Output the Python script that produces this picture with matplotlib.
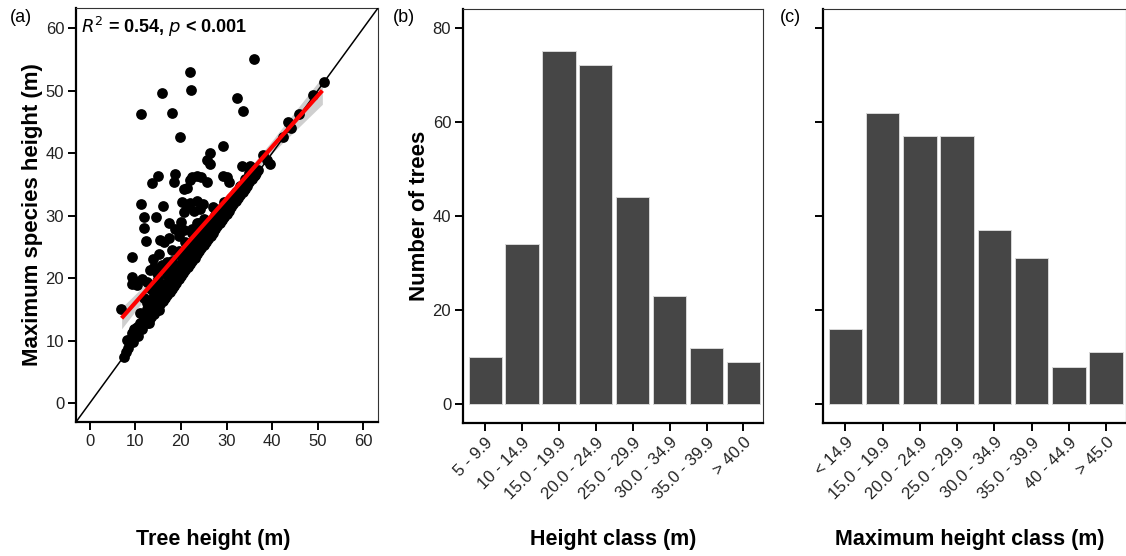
import matplotlib
matplotlib.use('Agg')
import matplotlib.pyplot as plt
import numpy as np

plt.rcParams['font.family'] = ['Liberation Sans', 'DejaVu Sans']

# (a) tree height vs maximum species height
tree_h = [
    21.9, 15.9, 22.3, 11.3, 18.0, 32.2, 33.7, 19.9, 29.2, 26.4, 25.7, 26.4, 33.3, 35.1, 36.0,
    51.3, 48.9, 45.8, 43.5, 44.2, 42.4, 38.0, 38.8, 39.5, 36.2, 30.0,
    14.9, 18.8, 13.7, 18.5, 21.3, 22.4, 23.5, 24.5, 25.7, 29.2, 30.6, 20.7, 22.0,
    11.3, 16.0, 20.2, 21.3, 22.0, 23.5, 24.9, 27.1, 20.6, 22.8, 24.2, 28.2,
    12.0, 14.5, 11.8, 17.3, 18.6, 20.6, 22.4, 19.5, 23.5, 25.0, 26.5, 20.0,
    12.4, 15.5, 16.2, 17.3, 18.0, 19.5, 21.3,
    9.3, 13.8, 15.3, 14.0, 15.9, 17.0,
    9.3, 11.5, 10.4, 13.3, 14.8, 12.6, 14.0, 9.3, 10.4,
    6.8, 9.7, 9.3, 10.4, 8.2, 7.9, 7.5, 8.6, 13.3, 14.0, 11.8, 12.9, 15.1,
    8.5, 9.5, 10.5, 11.5, 12.5, 13.0, 13.5, 14.0, 14.5, 15.0, 15.5, 16.0, 16.5, 17.0, 17.5,
    18.0, 18.5, 19.0, 19.5, 20.0, 20.5, 21.0, 21.5, 22.0, 22.5, 23.0, 23.5, 24.0, 24.5, 25.0,
    25.5, 26.0, 26.5, 27.0, 27.5, 28.0, 28.5, 29.0, 29.5, 30.0, 30.5, 31.0, 31.5, 32.0, 32.5,
    33.0, 33.5, 34.0, 34.5, 35.0, 35.5, 36.0, 36.5, 37.0,
    10.0, 11.0, 12.0, 13.0, 14.0, 15.0, 16.0, 17.0, 18.0, 19.0, 20.0, 21.0, 22.0, 23.0, 24.0,
    25.0, 26.0, 27.0, 28.0, 29.0, 30.0, 31.0, 32.0, 33.0, 34.0, 35.0,
    11.0, 12.5, 14.0, 15.5, 17.0, 18.5, 20.0, 21.5, 23.0, 24.5,
    12.5, 13.5, 14.5, 15.5, 16.5, 17.5, 18.5, 19.5, 20.5, 21.5, 22.5, 23.5, 24.5, 25.5, 26.5,
    27.5, 28.5, 29.5,
    12.0, 13.5, 15.0, 16.5, 18.0, 19.5, 21.0, 22.5, 24.0,
]
max_h = [
    53.0, 49.6, 50.1, 46.3, 46.4, 48.8, 46.8, 42.6, 41.1, 40.0, 38.9, 38.2, 37.9, 37.9, 55.0,
    51.4, 49.3, 46.2, 45.0, 44.0, 42.6, 39.7, 38.9, 38.3, 36.5, 36.2,
    36.4, 36.7, 35.2, 35.3, 34.4, 36.2, 36.4, 36.2, 35.3, 36.3, 35.4, 34.2, 35.7,
    31.9, 31.5, 32.2, 31.4, 32.0, 32.4, 31.9, 31.4, 30.6, 30.8, 31.0, 30.6,
    29.8, 29.8, 28.1, 28.8, 27.9, 27.7, 27.8, 26.8, 28.9, 29.5, 29.0, 29.0,
    25.9, 26.1, 25.8, 26.4, 24.5, 24.2, 24.8,
    23.4, 23.1, 23.8, 21.8, 22.1, 22.6,
    20.2, 19.9, 18.9, 21.3, 20.8, 19.4, 18.9, 19.1, 19.4,
    15.0, 11.9, 11.2, 12.2, 10.1, 8.2, 7.4, 10.1, 16.5, 15.4, 13.8, 12.8, 14.9,
    8.8, 9.8, 10.8, 11.8, 12.8, 13.3, 13.8, 14.3, 14.8, 15.3, 15.8, 16.3, 16.8, 17.3, 17.8,
    18.3, 18.8, 19.3, 19.8, 20.3, 20.8, 21.3, 21.8, 22.3, 22.8, 23.3, 23.8, 24.3, 24.8, 25.3,
    25.8, 26.3, 26.8, 27.3, 27.8, 28.3, 28.8, 29.3, 29.8, 30.3, 30.8, 31.3, 31.8, 32.3, 32.8,
    33.3, 33.8, 34.3, 34.8, 35.3, 35.8, 36.3, 36.8, 37.3,
    11.8, 12.8, 13.8, 14.8, 15.8, 16.8, 17.8, 18.8, 19.8, 20.8, 21.8, 22.8, 23.8, 24.8, 25.8,
    26.8, 27.8, 28.8, 29.8, 30.8, 31.8, 32.8, 33.8, 34.8, 35.8, 36.8,
    14.5, 16.0, 17.5, 19.0, 20.5, 22.0, 23.5, 25.0, 26.5, 28.0,
    15.1, 16.1, 17.1, 18.1, 19.1, 20.1, 21.1, 22.1, 23.1, 24.1, 25.1, 26.1, 27.1, 28.1, 29.1,
    30.1, 31.1, 32.1,
    16.8, 18.3, 19.8, 21.3, 22.8, 24.3, 25.8, 27.3, 28.8,
]

# fitted line and confidence band
fit_x = [7, 15, 22, 30, 40, 51]
fit_y = [13.6, 20.2, 26.1, 32.7, 41.0, 50.0]
ci_lo = [11.9, 19.4, 25.6, 32.2, 40.0, 47.8]
ci_hi = [15.3, 21.0, 26.6, 33.2, 42.0, 52.2]

# (b) height classes
height_cls = ['5 - 9.9', '10 - 14.9', '15.0 - 19.9', '20.0 - 24.9', '25.0 - 29.9',
              '30.0 - 34.9', '35.0 - 39.9', '> 40.0']
height_n = [10, 34, 75, 72, 44, 23, 12, 9]

# (c) maximum height classes
maxh_cls = ['< 14.9', '15.0 - 19.9', '20.0 - 24.9', '25.0 - 29.9', '30.0 - 34.9',
            '35.0 - 39.9', '40 - 44.9', '> 45.0']
maxh_n = [16, 62, 57, 57, 37, 31, 8, 11]

W, H = 1126, 556
fig = plt.figure(figsize=(W / 100, H / 100), dpi=100)
ax1 = fig.add_axes([76 / W, 1 - 422 / H, 302 / W, 414 / H])
ax2 = fig.add_axes([463 / W, 1 - 423 / H, 300 / W, 414 / H])
ax3 = fig.add_axes([823 / W, 1 - 423 / H, 303 / W, 414 / H])

def style(ax):
    for s in ['top', 'right']:
        ax.spines[s].set_linewidth(0.8)
        ax.spines[s].set_color('#333333')
    for s in ['left', 'bottom']:
        ax.spines[s].set_linewidth(1.6)
        ax.spines[s].set_color('black')
    ax.tick_params(direction='out', length=5.5, width=1.4, labelsize=12,
                   labelcolor='#222222', pad=3)

# panel a
ax1.fill_between(fit_x, ci_lo, ci_hi, color='#b0b0b0', alpha=0.6, lw=0, zorder=2)
ax1.scatter(tree_h, max_h, s=60, color='black', lw=0, zorder=3)
ax1.axline((0, 0), slope=1, color='black', lw=1.1, zorder=4)
ax1.plot(fit_x, fit_y, color='#ff0000', lw=3, zorder=5, solid_capstyle='butt')
ax1.set_xlim(-3, 63.2)
ax1.set_ylim(-3, 63.2)
ax1.set_xticks(range(0, 61, 10))
ax1.set_yticks(range(0, 61, 10))
style(ax1)
ax1.set_ylabel('Maximum species height (m)', fontsize=16, fontweight='bold', labelpad=2)
ax1.text(0.015, 0.955, r'$\bf{\it{R}^2}$' + ' = 0.54, ' + r'$\bf{\it{p}}$' + ' < 0.001',
         transform=ax1.transAxes, fontsize=13, fontweight='bold', va='center', ha='left')
fig.text(213 / W, 1 - 540 / H, 'Tree height (m)', fontsize=15.5, fontweight='bold',
         ha='center', va='center')

# panels b and c
for ax, cls, n, title, cx in [(ax2, height_cls, height_n, 'Height class (m)', 613),
                              (ax3, maxh_cls, maxh_n, 'Maximum height class (m)', 970)]:
    pos = np.arange(len(cls))
    ax.bar(pos, n, width=0.9, color='#464646', edgecolor='#d8d8d8', lw=0.7, zorder=2)
    ax.set_xlim(-0.6, 7.53)
    ax.set_ylim(-4, 84)
    ax.set_yticks([0, 20, 40, 60, 80])
    ax.set_xticks(pos)
    ax.set_xticklabels(cls, rotation=45, ha='right', rotation_mode='anchor')
    style(ax)
    fig.text(cx / W, 1 - 540 / H, title, fontsize=15.5, fontweight='bold',
             ha='center', va='center')

ax2.set_ylabel('Number of trees', fontsize=16, fontweight='bold', labelpad=2)
ax3.set_yticklabels([])

fig.text(10 / W, 1 - 18 / H, '(a)', fontsize=13, va='center', ha='left')
fig.text(393 / W, 1 - 18 / H, '(b)', fontsize=13, va='center', ha='left')
fig.text(780 / W, 1 - 18 / H, '(c)', fontsize=13, va='center', ha='left')

fig.savefig('out.png', dpi=100)
